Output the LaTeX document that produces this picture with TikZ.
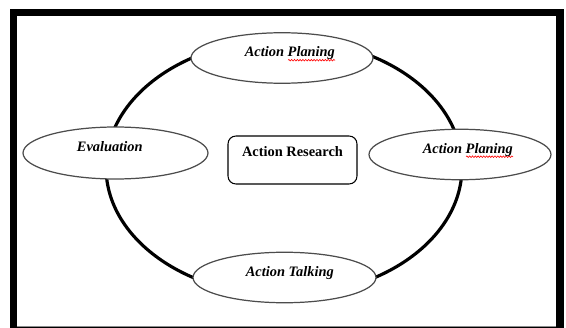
\documentclass[tikz,border=0pt]{standalone}
\usepackage{fontspec}
\setmainfont{Liberation Serif}
\usetikzlibrary{shapes.geometric,decorations.pathmorphing}

% red wavy underline under a word
\newsavebox\wavebox
\newcommand\spellwave[1]{%
  \sbox\wavebox{#1}%
  \rlap{\tikz[baseline=0pt]\draw[red, line width=0.35pt, decorate,
      decoration={snake, segment length=1.6pt, amplitude=0.45pt}]
      (0pt,-2pt) -- (\wd\wavebox,-2pt);}%
  \usebox\wavebox}

\begin{document}
\begin{tikzpicture}[
        x=0.02cm, y=-0.02cm,
        oval/.style={draw=black!70, fill=white, ellipse, inner sep=0pt, line width=0.7pt,
            minimum width=3.64cm, minimum height=1.01cm,
            font=\fontsize{8.2}{10}\selectfont\bfseries\itshape, text height=6pt, text depth=7.5pt},
        box/.style={draw, fill=white, rounded corners=4.5pt, inner sep=0pt, line width=0.6pt,
            minimum width=2.58cm, minimum height=0.96cm,
            font=\fontsize{8.2}{10}\selectfont\bfseries, text height=6pt, text depth=10pt}
    ]
        \useasboundingbox (0,0) rectangle (566,328);
        % frame
        \fill (10,9) rectangle (564,328);
        \fill[white] (17.5,16.5) rectangle (556.5,326);
        \fill[black!45] (17.5,326) rectangle (556.5,327.3);

        % cycle behind the stages
        \node[draw, ellipse, line width=1.8pt, inner sep=0pt,
            minimum width=7.12cm, minimum height=5.12cm] (ring) at (284,167.5) {};

        \node[oval] (plantop) at (282,58) {\hspace*{9pt}Action \spellwave{Planing}};
        \node[oval, minimum width=3.7cm, minimum height=1.04cm] (evaluation) at (115.5,153) {Evaluation\hspace*{6.5pt}};
        \node[oval] (planright) at (460,154.5) {\hspace*{9pt}Action \spellwave{Planing}};
        \node[oval, minimum width=3.66cm] (talking) at (284.5,277.5) {\hspace*{6pt}Action Talking};
        \node[box] (research) at (292.5,160) {Action Research};
    \end{tikzpicture}
\end{document}
